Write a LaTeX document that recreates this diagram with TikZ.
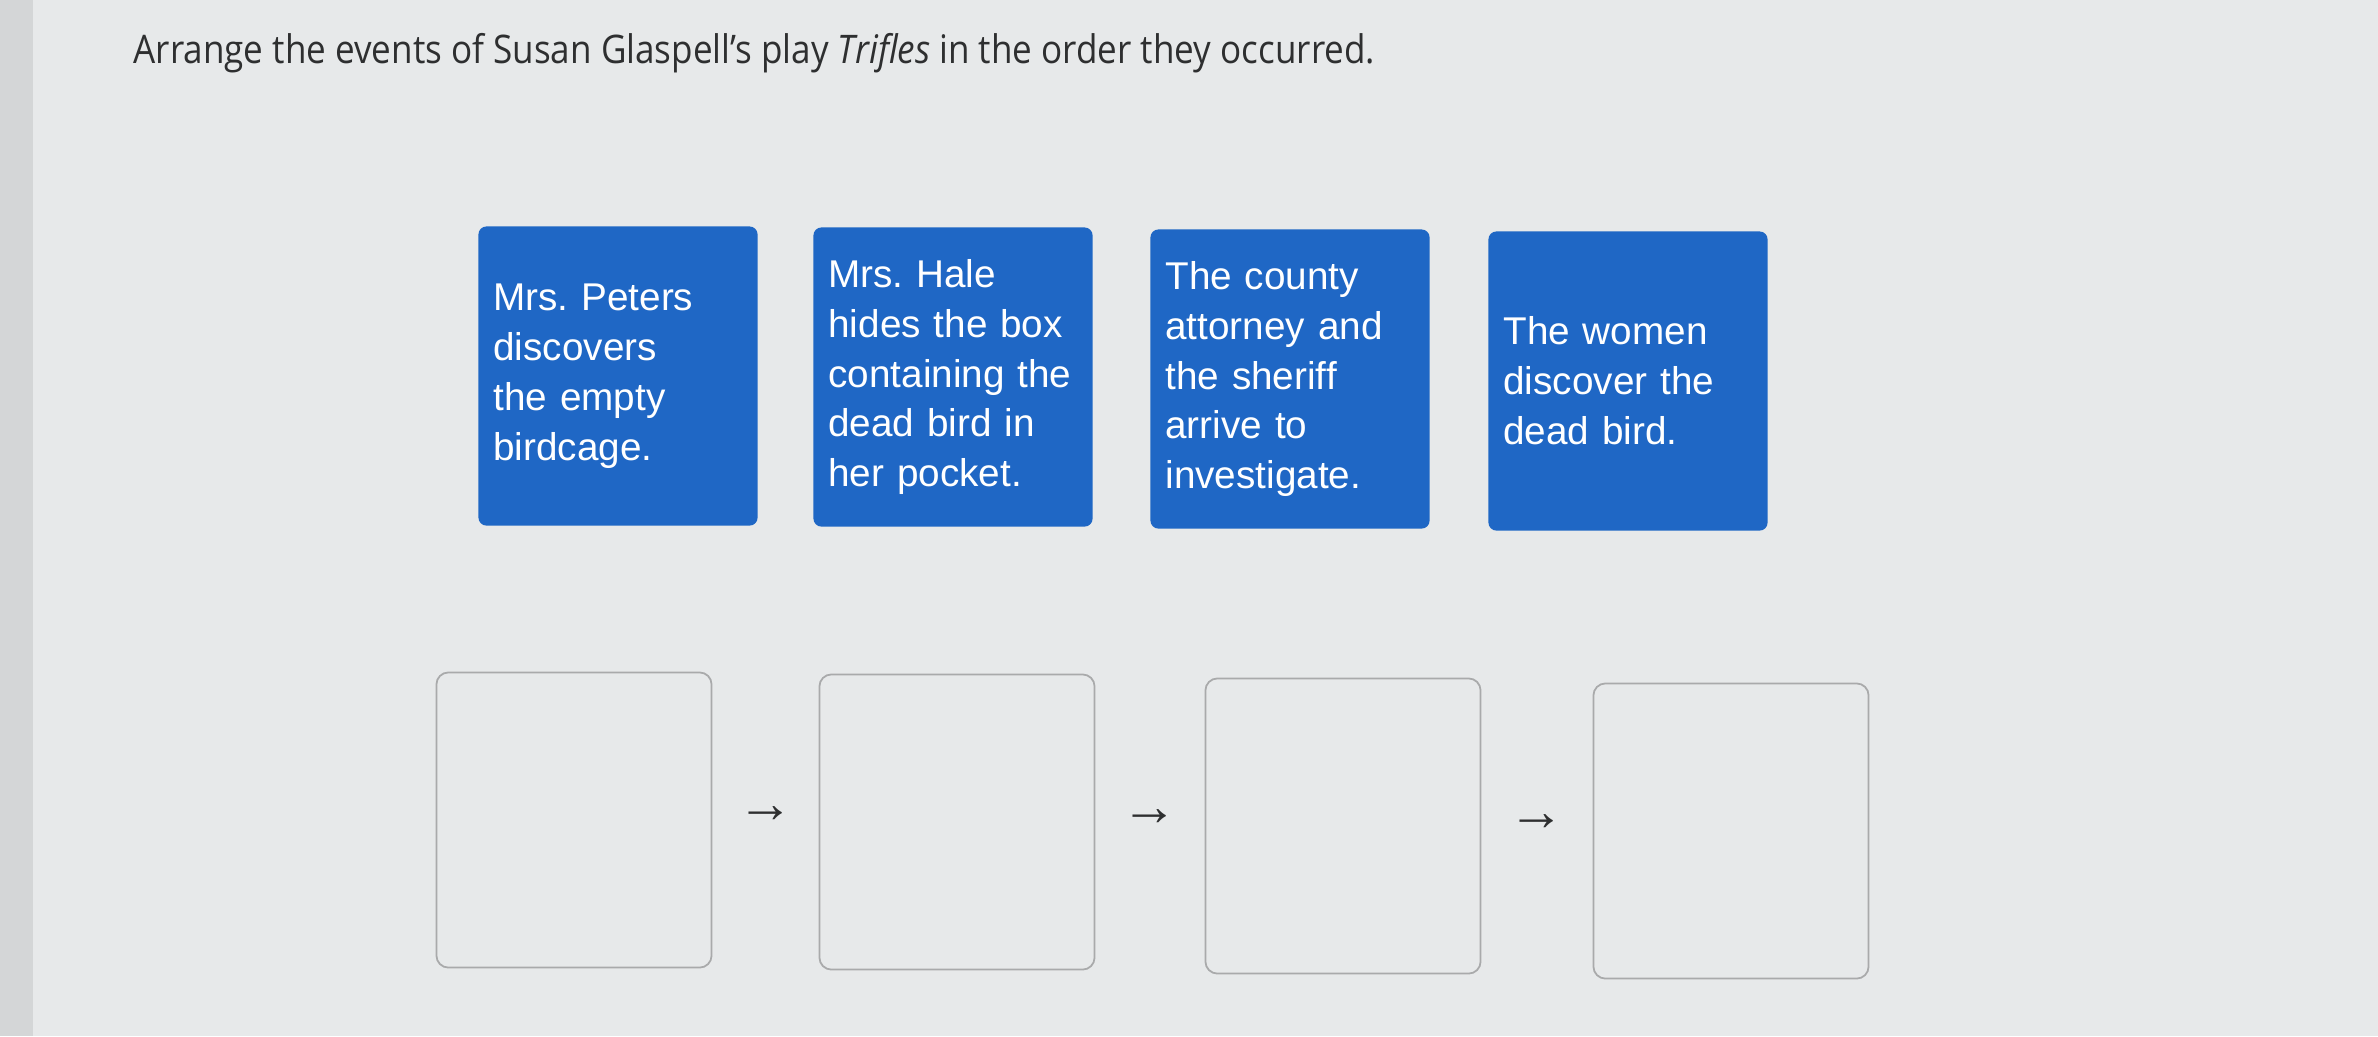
\documentclass[tikz,border=0pt]{standalone}
\usepackage{fontspec}
\setmainfont{Liberation Sans}
\newfontfamily\titlefont{Open Sans}
\usetikzlibrary{calc}
\frenchspacing

\definecolor{screenbg}{HTML}{E7E9EA}
\definecolor{screenedge}{HTML}{D4D6D7}
\definecolor{cardblue}{HTML}{1F67C5}
\definecolor{slotline}{HTML}{A9AAAB}
\definecolor{titleink}{HTML}{2E2F30}

\tikzset{
  eventcard/.style={fill=cardblue, rounded corners=0.08cm, text=white,
    minimum width=2.79cm, minimum height=2.99cm, text width=2.49cm,
    inner xsep=0.15cm, align=left, font=\fontsize{11}{14.2}\selectfont},
  dropslot/.style={draw=slotline, line width=0.5pt, rounded corners=0.12cm,
    minimum width=2.75cm, minimum height=2.95cm},
  seqarrow/.style={text=titleink, font=\fontsize{16}{18}\selectfont, inner sep=0pt}
}

\begin{document}
\begin{tikzpicture}[x=0.01cm, y=-0.01cm]
\useasboundingbox (0,0) rectangle (2378,1036);
% Screen background
\fill[screenbg] (0,0) rectangle (2378,1036);
\fill[screenedge] (0,0) rectangle (33,1036);

% Question
\node[anchor=west, text=titleink, font=\titlefont\fontsize{11.2}{14}\selectfont, inner sep=0pt,
  xscale=0.89, transform shape] (question) at (133,53)
  {Arrange the events of Susan Glaspell’s play \textit{Trifles} in the order they occurred.};

% Event cards
\node[eventcard] (peters) at (618,376) {Mrs. Peters\\discovers\\the empty\\birdcage.};
\node[eventcard] (hale) at (953,377) {Mrs. Hale\\hides the box\\containing the\\dead bird in\\her pocket.};
\node[eventcard] (county) at (1290,379) {The county\\attorney and\\the sheriff\\arrive to\\investigate.};
\node[eventcard] (women) at (1628,381) {The women\\discover the\\dead bird.};

% Empty answer slots
\node[dropslot] (slot1) at (574,820) {};
\node[dropslot] (slot2) at (957,822) {};
\node[dropslot] (slot3) at (1343,826) {};
\node[dropslot] (slot4) at (1731,831) {};

% Arrows between slots
\foreach \a/\b in {1/2, 2/3, 3/4} {
  \node[seqarrow] (arrow\a) at ($(slot\a.east)!0.5!(slot\b.west)+(0,-6)$) {→};
}
\end{tikzpicture}
\end{document}
